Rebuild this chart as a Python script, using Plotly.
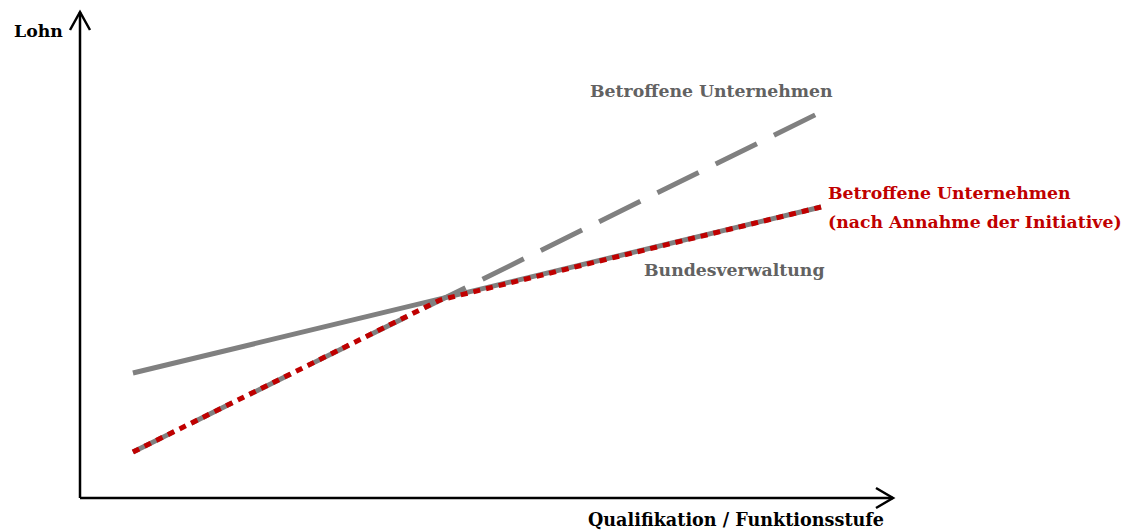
import plotly.graph_objects as go

# ---- data (abstract units: Qualifikation on x, Lohn on y) ----
x_bund = [1, 14]
y_bund = [12.5, 29.1]           # Bundesverwaltung (solid gray)

x_unt = [1, 14]
y_unt = [4.6, 38.6]             # Betroffene Unternehmen (dashed gray)

x_init = [1, 6.8, 14]
y_init = [4.6, 19.8, 29.1]      # nach Annahme der Initiative (red dotted)

x_range = [0, 15.36]
y_range = [0, 48.6]

GRAY = "#808080"
TXT_GRAY = "#626262"
RED = "#C00000"
FONT = "DejaVu Serif"

fig = go.Figure()
fig.add_trace(go.Scatter(x=x_bund, y=y_bund, mode="lines",
                         line=dict(color=GRAY, width=5), hoverinfo="skip"))
fig.add_trace(go.Scatter(x=x_unt, y=y_unt, mode="lines",
                         line=dict(color=GRAY, width=5, dash="46px,19px"), hoverinfo="skip"))
fig.add_trace(go.Scatter(x=x_init, y=y_init, mode="lines",
                         line=dict(color=RED, width=5, dash="7px,6px"), hoverinfo="skip"))

# page body has an 8px margin -> figure is placed at (8, 8) in the window
OFF = 8
W, H = 1135 - OFF, 531 - OFF
L = 80 - OFF            # y-axis at window x = 80
T = 12 - OFF            # arrow tip at window y = 12
R = W - (893 - OFF)     # x-axis tip at window x = 893
B = H - (498 - OFF)     # x-axis at window y = 498
pw, ph = W - L - R, H - T - B


def px(p):
    """window x-pixel -> paper coordinate"""
    return (p - OFF - L) / pw


def py(p):
    """window y-pixel -> paper coordinate"""
    return (H - B - (p - OFF)) / ph


def dx(p):
    return px(p) * (x_range[1] - x_range[0]) + x_range[0]


def dy(p):
    return py(p) * (y_range[1] - y_range[0]) + y_range[0]


shapes = []
line_style = dict(color="black", width=2.5)
shapes.append(dict(type="line", xref="paper", yref="paper", x0=0, y0=0, x1=0, y1=1, line=line_style))
shapes.append(dict(type="line", xref="paper", yref="paper", x0=0, y0=0, x1=1, y1=0, line=line_style))
shapes.append(dict(type="path", xref="paper", yref="paper",
                   path=f"M {px(70)} {py(30)} L {px(80)} {py(12)} L {px(90)} {py(30)}",
                   line=line_style))
shapes.append(dict(type="path", xref="paper", yref="paper",
                   path=f"M {px(876)} {py(488)} L {px(893)} {py(498)} L {px(876)} {py(508)}",
                   line=line_style))


def font(color, size=17.3):
    return dict(family=FONT, size=size, color=color, weight="bold")


annotations = [
    dict(text="Lohn", xref="paper", yref="paper", x=px(12), y=py(31), xanchor="left", yanchor="middle",
         showarrow=False, font=font("black")),
    dict(text="Qualifikation / Funktionsstufe", xref="paper", yref="paper", x=px(886), y=py(519),
         xanchor="right", yanchor="middle", showarrow=False, font=font("black", 17.6)),
    dict(text="Betroffene Unternehmen", xref="x", yref="y", x=dx(588), y=dy(91),
         xanchor="left", yanchor="middle", showarrow=False, font=font(TXT_GRAY)),
    dict(text="Bundesverwaltung", xref="x", yref="y", x=dx(642), y=dy(270),
         xanchor="left", yanchor="middle", showarrow=False, font=font(TXT_GRAY)),
    dict(text="Betroffene Unternehmen", xref="x", yref="y", x=dx(826), y=dy(193),
         xanchor="left", yanchor="middle", showarrow=False, font=font(RED)),
    dict(text="(nach Annahme der Initiative)", xref="x", yref="y", x=dx(826), y=dy(222),
         xanchor="left", yanchor="middle", showarrow=False, font=font(RED)),
]

fig.update_layout(
    width=W, height=H,
    margin=dict(l=L, r=R, t=T, b=B),
    plot_bgcolor="white", paper_bgcolor="white",
    showlegend=False,
    xaxis=dict(range=x_range, visible=False, fixedrange=True),
    yaxis=dict(range=y_range, visible=False, fixedrange=True),
    shapes=shapes, annotations=annotations,
)

fig.write_html("out.html")
